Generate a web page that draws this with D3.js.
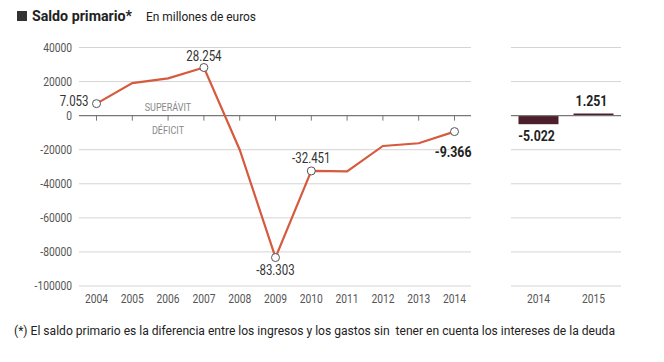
<!DOCTYPE html>
<html>
<head>
<meta charset="utf-8">
<script src="https://cdn.jsdelivr.net/npm/d3@7"></script>
<style>
body { margin: 0; background: #fff; }
text { font-family: Roboto, "Liberation Sans", sans-serif; }
</style>
</head>
<body>
<script>
var width = 664;
var height = 362;

// data
var years = [2004, 2005, 2006, 2007, 2008, 2009, 2010, 2011, 2012, 2013, 2014];
var saldo = [7053, 19100, 21900, 28254, -20000, -83303, -32451, -32700, -17800, -16200, -9366];
var barYears = ["2014", "2015"];
var barValues = [-5022, 1251];
var yTicks = [40000, 20000, 0, -20000, -40000, -60000, -80000, -100000];

var svg = d3.select("body")
    .append("svg")
    .attr("width", width)
    .attr("height", height);

// squeeze text to look like the condensed font of the original
function condense(sel, k) {
  sel.each(function() {
    var w = this.getComputedTextLength();
    d3.select(this).attr("textLength", w * k).attr("lengthAdjust", "spacingAndGlyphs");
  });
}

var y = d3.scaleLinear()
    .domain([-100000, 40000])
    .range([286, 47.5]);

var x = d3.scalePoint()
    .domain(years)
    .range([96.5, 454.5]);

var xb = d3.scaleBand()
    .domain(barYears)
    .range([511, 621])
    .paddingInner(0.273)
    .paddingOuter(0.136);

// title
svg.append("rect")
    .attr("x", 17).attr("y", 11)
    .attr("width", 10).attr("height", 10)
    .attr("fill", "#333");
svg.append("text")
    .attr("x", 32).attr("y", 21)
    .attr("font-size", 14.5).attr("font-weight", "bold")
    .attr("fill", "#222")
    .attr("textLength", 100).attr("lengthAdjust", "spacingAndGlyphs")
    .text("Saldo primario*");
svg.append("text")
    .attr("x", 146).attr("y", 21)
    .attr("font-size", 13)
    .attr("fill", "#222")
    .attr("textLength", 110).attr("lengthAdjust", "spacingAndGlyphs")
    .text("En millones de euros");

// gridlines left and right
var grid = svg.append("g");
grid.selectAll(".gl")
    .data(yTicks.filter(function(d) { return d != 0; }))
    .enter().append("line")
    .attr("x1", 79).attr("x2", 471)
    .attr("y1", function(d) { return y(d); })
    .attr("y2", function(d) { return y(d); })
    .attr("stroke", "#d4d4d4");
grid.selectAll(".gr")
    .data(yTicks.filter(function(d) { return d != 0; }))
    .enter().append("line")
    .attr("x1", 511).attr("x2", 621)
    .attr("y1", function(d) { return y(d); })
    .attr("y2", function(d) { return y(d); })
    .attr("stroke", "#d4d4d4");

// y labels
svg.selectAll(".yl")
    .data(yTicks)
    .enter().append("text")
    .attr("class", "cond")
    .attr("x", 72)
    .attr("y", function(d) { return y(d); })
    .attr("dy", "0.35em")
    .attr("text-anchor", "end")
    .attr("font-size", 12.5)
    .attr("fill", "#555")
    .text(function(d) { return d; });

// zero axis with ticks
svg.append("line")
    .attr("x1", 79).attr("x2", 471)
    .attr("y1", y(0)).attr("y2", y(0))
    .attr("stroke", "#777").attr("stroke-width", 1.2);
svg.selectAll(".tk")
    .data(years)
    .enter().append("line")
    .attr("x1", function(d) { return x(d); })
    .attr("x2", function(d) { return x(d); })
    .attr("y1", y(0)).attr("y2", y(0) + 5)
    .attr("stroke", "#777");

// x labels
svg.selectAll(".xl")
    .data(years)
    .enter().append("text")
    .attr("class", "cond")
    .attr("x", function(d) { return x(d); })
    .attr("y", 303)
    .attr("text-anchor", "middle")
    .attr("font-size", 12.5)
    .attr("fill", "#555")
    .text(function(d) { return d; });

svg.append("text").attr("class", "cond").attr("x", 168).attr("y", 111)
    .attr("text-anchor", "middle").attr("font-size", 11).attr("fill", "#888")
    .text("SUPERÁVIT");
svg.append("text").attr("class", "cond").attr("x", 168).attr("y", 134)
    .attr("text-anchor", "middle").attr("font-size", 11).attr("fill", "#888")
    .text("DÉFICIT");

// line
var line = d3.line()
    .x(function(d, i) { return x(years[i]); })
    .y(function(d) { return y(d); });
svg.append("path")
    .datum(saldo)
    .attr("d", line)
    .attr("fill", "none")
    .attr("stroke", "#d65a3e")
    .attr("stroke-width", 2.2);

// marked points
var marks = [0, 3, 5, 6, 10];
svg.selectAll(".pt")
    .data(marks)
    .enter().append("circle")
    .attr("cx", function(i) { return x(years[i]); })
    .attr("cy", function(i) { return y(saldo[i]); })
    .attr("r", 4)
    .attr("fill", "#fff")
    .attr("stroke", "#555");

var fmt = function(v) { return d3.format(",")(v).replace(/,/g, ".").replace("\u2212", "-"); };

svg.append("text").attr("class", "cond").attr("x", x(years[0]) - 8).attr("y", y(saldo[0]) + 2)
    .attr("text-anchor", "end").attr("font-size", 14).attr("fill", "#333")
    .text(fmt(saldo[0]));
svg.append("text").attr("class", "cond").attr("x", x(years[3])).attr("y", y(saldo[3]) - 7)
    .attr("text-anchor", "middle").attr("font-size", 14).attr("fill", "#333")
    .text(fmt(saldo[3]));
svg.append("text").attr("class", "cond").attr("x", x(years[5])).attr("y", y(saldo[5]) + 17)
    .attr("text-anchor", "middle").attr("font-size", 14).attr("fill", "#333")
    .text(fmt(saldo[5]));
svg.append("text").attr("class", "cond").attr("x", x(years[6])).attr("y", y(saldo[6]) - 8)
    .attr("text-anchor", "middle").attr("font-size", 14).attr("fill", "#333")
    .text(fmt(saldo[6]));
svg.append("text").attr("class", "cond").attr("x", x(years[10]) + 17).attr("y", y(saldo[10]) + 25)
    .attr("text-anchor", "end").attr("font-size", 15).attr("font-weight", "bold").attr("fill", "#222")
    .text(fmt(saldo[10]));

// right panel bars
svg.selectAll(".bar")
    .data(barValues)
    .enter().append("rect")
    .attr("x", function(d, i) { return xb(barYears[i]); })
    .attr("width", xb.bandwidth())
    .attr("y", function(d) { return y(Math.max(0, d)); })
    .attr("height", function(d) { return Math.abs(y(d) - y(0)); })
    .attr("fill", "#4d1f2c");
svg.append("line")
    .attr("x1", 511).attr("x2", 621)
    .attr("y1", y(0)).attr("y2", y(0))
    .attr("stroke", "#777").attr("stroke-width", 1.2);
svg.selectAll(".bl")
    .data(barValues)
    .enter().append("text")
    .attr("class", "cond")
    .attr("x", function(d, i) { return xb(barYears[i]) + xb.bandwidth() / 2 - 2; })
    .attr("y", function(d) { return d < 0 ? y(d) + 17 : y(d) - 8; })
    .attr("text-anchor", "middle")
    .attr("font-size", 15).attr("font-weight", "bold").attr("fill", "#222")
    .text(function(d) { return fmt(d); });
svg.selectAll(".bx")
    .data(barYears)
    .enter().append("text")
    .attr("class", "cond")
    .attr("x", function(d) { return xb(d) + xb.bandwidth() / 2; })
    .attr("y", 303)
    .attr("text-anchor", "middle")
    .attr("font-size", 12.5)
    .attr("fill", "#555")
    .text(function(d) { return d; });

condense(svg.selectAll("text.cond"), 0.82);

// footnote
svg.append("text")
    .attr("x", 14).attr("y", 335)
    .attr("font-size", 12)
    .attr("fill", "#222")
    .attr("textLength", 601).attr("lengthAdjust", "spacingAndGlyphs")
    .style("white-space", "pre")
    .text("(*) El saldo primario es la diferencia entre los ingresos y los gastos sin  tener en cuenta los intereses de la deuda");
</script>
</body>
</html>
